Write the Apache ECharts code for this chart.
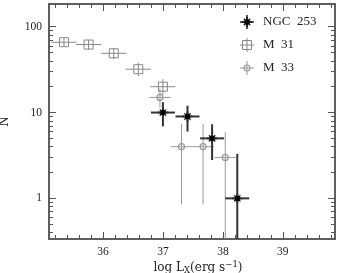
<!DOCTYPE html>
<html><head><meta charset="utf-8">
<script src="https://cdn.jsdelivr.net/npm/echarts@6/dist/echarts.min.js"></script>
<style>html,body{margin:0;padding:0;background:#fff}#c{width:337px;height:273px}</style>
</head><body><div id="c"></div>
<script>
// ---- data ----
const xMajor = [36, 37, 38, 39];
const xMinor = [35.2,35.4,35.6,35.8,36.2,36.4,36.6,36.8,37.2,37.4,37.6,37.8,38.2,38.4,38.6,38.8,39.2,39.4,39.6,39.8];
const yMajor = [1, 10, 100];
const yMinor = [0.4,0.5,0.6,0.7,0.8,0.9,2,3,4,5,6,7,8,9,20,30,40,50,60,70,80,90];

const ngcX   = [37.0, 37.41, 37.82, 38.24];
const ngcN   = [10, 9, 5, 1];
const ngcXe  = [0.2, 0.2, 0.2, 0.2];
const ngcLo  = [6.9, 6.0, 2.8, 0];
const ngcHi  = [13.2, 12.0, 7.3, 3.3];

const m31X   = [35.35, 35.76, 36.18, 36.59, 37.0];
const m31N   = [66, 62, 49, 32, 20];
const m31Xe  = [0.21, 0.21, 0.21, 0.21, 0.21];
const m31Lo  = [58, 54, 42, 26.5, 16];
const m31Hi  = [74, 70, 56, 38, 24.5];

const m33X   = [36.95, 37.31, 37.67, 38.04];
const m33N   = [15, 4, 4, 3];
const m33Xe  = [0.18, 0.18, 0.18, 0.18];
const m33Lo  = [11.5, 0.85, 0.85, 0];
const m33Hi  = [19, 7.4, 7.4, 5.9];

const names = ['NGC  253', 'M  31', 'M  33'];

const xMin = 35.1, xMax = 39.87, yMin = 0.336, yMax = 184;

function rows(X, N, Xe, Lo, Hi){ return X.map((x,i)=>[x, N[i], Xe[i], Lo[i], Hi[i]]); }

const frame = '#555';
const serif = 'Liberation Serif';

function marker(kind, cx, cy, color){
  if (kind === 'star') {
    const d = 3.2;
    return [
      {type:'line', shape:{x1:cx-d,y1:cy-d,x2:cx+d,y2:cy+d}, style:{stroke:color, lineWidth:1.3}},
      {type:'line', shape:{x1:cx-d,y1:cy+d,x2:cx+d,y2:cy-d}, style:{stroke:color, lineWidth:1.3}},
      {type:'line', shape:{x1:cx-5,y1:cy,x2:cx+5,y2:cy}, style:{stroke:color, lineWidth:2}},
      {type:'line', shape:{x1:cx,y1:cy-5,x2:cx,y2:cy+5}, style:{stroke:color, lineWidth:2}},
      {type:'rect', shape:{x:cx-2.5,y:cy-2.5,width:5,height:5}, style:{fill:'#000'}}
    ];
  } else if (kind === 'square') {
    return [{type:'rect', shape:{x:cx-4.5,y:cy-4.5,width:9,height:9}, style:{fill:'none', stroke:color, lineWidth:1}}];
  } else {
    return [{type:'circle', shape:{cx:cx,cy:cy,r:3}, style:{fill:'none', stroke:color, lineWidth:1.2}}];
  }
}

function makeRender(kind, color, lw){
  return function(params, api){
    const x = api.value(0), y = api.value(1), xe = api.value(2), lo = api.value(3), hi = api.value(4);
    const c = api.coord([x, y]);
    const l = api.coord([x - xe, y]), r = api.coord([x + xe, y]);
    const t = api.coord([x, hi]), b = api.coord([x, lo > yMin ? lo : yMin]);
    return {type:'group', children:[
      {type:'line', shape:{x1:l[0],y1:c[1],x2:r[0],y2:c[1]}, style:{stroke:color, lineWidth:lw}},
      {type:'line', shape:{x1:c[0],y1:t[1],x2:c[0],y2:b[1]}, style:{stroke:color, lineWidth:lw}}
    ].concat(marker(kind, c[0], c[1], color))};
  };
}

function xAxisDef(pos, vals, len, labels){
  return {type:'value', position:pos, min:xMin, max:xMax,
    axisLine:{show:true, onZero:false, lineStyle:{color:frame, width:1.5}},
    axisTick:{show:true, inside:true, length:len, customValues:vals, lineStyle:{color:frame, width:1}},
    axisLabel:{show:labels, customValues: labels ? vals : undefined, color:'#222', fontFamily:serif, fontSize:11.5, margin:7},
    splitLine:{show:false}};
}
function yAxisDef(pos, vals, len, labels){
  return {type:'log', logBase:10, position:pos, min:yMin, max:yMax,
    axisLine:{show:true, onZero:false, lineStyle:{color:frame, width:1.5}},
    axisTick:{show:true, inside:true, length:len, customValues:vals, lineStyle:{color:frame, width:1}},
    axisLabel:{show:labels, customValues: labels ? vals : undefined, color:'#222', fontFamily:serif, fontSize:11.5, margin:7},
    splitLine:{show:false}};
}

const xa0 = xAxisDef('bottom', xMajor, 7, true);
xa0.name = '{a|log L}{s|X}{a|(erg s}{p|−1}{a|)}';
xa0.nameLocation = 'middle';
xa0.nameGap = 21;
xa0.nameMoveOverlap = false;
xa0.nameTextStyle = {padding:[0,0,0,12], rich:{
  a:{fontFamily:'DejaVu Serif', fontSize:12, color:'#222'},
  s:{fontFamily:'DejaVu Serif', fontSize:8.5, color:'#222', verticalAlign:'bottom', padding:[6,0,0,0]},
  p:{fontFamily:'DejaVu Serif', fontSize:8.5, color:'#222', verticalAlign:'top', padding:[0,0,6,0]}
}};
const ya0 = yAxisDef('left', yMajor, 7, true);
ya0.name = 'N';
ya0.nameLocation = 'middle';
ya0.nameGap = 38;
ya0.nameMoveOverlap = false;
ya0.nameRotate = 90;
ya0.nameTextStyle = {fontFamily:'DejaVu Serif', fontSize:12, color:'#222'};

const chart = echarts.init(document.getElementById('c'), null, {renderer:'canvas'});
const legY = [22, 45, 68];
const legX = 247;
const legendGraphics = [];
['star','square','circle'].forEach((k,i)=>{
  const col = i===0 ? '#222' : (i===1 ? '#888' : '#999');
  legendGraphics.push({type:'line', shape:{x1:legX-7,y1:legY[i],x2:legX+7,y2:legY[i]}, style:{stroke:col, lineWidth:i===0?1.5:1}});
  legendGraphics.push({type:'line', shape:{x1:legX,y1:legY[i]-7,x2:legX,y2:legY[i]+7}, style:{stroke:col, lineWidth:i===0?1.5:1}});
  marker(k, legX, legY[i], col).forEach(g=>legendGraphics.push(g));
  legendGraphics.push({type:'text', x:263, y:legY[i], style:{text:names[i], fontFamily:serif, fontSize:13, fill:'#222', verticalAlign:'middle', align:'left'}});
});

chart.setOption({
  animation:false,
  backgroundColor:'#fff',
  grid:{left:49, right:2, top:4, bottom:34, containLabel:false, outerBoundsMode:'none'},
  xAxis:[xa0, xAxisDef('bottom', xMinor, 4, false), xAxisDef('top', xMajor, 7, false), xAxisDef('top', xMinor, 4, false)],
  yAxis:[ya0, yAxisDef('left', yMinor, 4, false), yAxisDef('right', yMajor, 7, false), yAxisDef('right', yMinor, 4, false)],
  graphic: legendGraphics,
  series:[
    {type:'custom', name:'M 33', renderItem:makeRender('circle', '#999', 1), data:rows(m33X,m33N,m33Xe,m33Lo,m33Hi), encode:{x:0,y:1}},
    {type:'custom', name:'M 31', renderItem:makeRender('square', '#888', 1), data:rows(m31X,m31N,m31Xe,m31Lo,m31Hi), encode:{x:0,y:1}},
    {type:'custom', name:'NGC 253', renderItem:makeRender('star', '#333', 2), data:rows(ngcX,ngcN,ngcXe,ngcLo,ngcHi), encode:{x:0,y:1}}
  ]
});
</script></body></html>
